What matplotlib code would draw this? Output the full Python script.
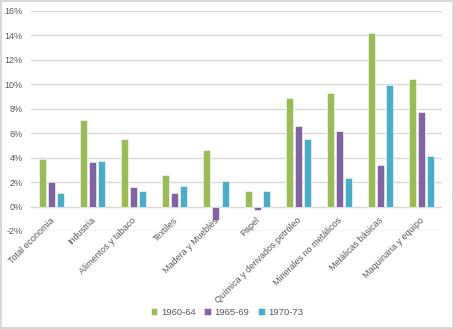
import matplotlib.pyplot as plt
import numpy as np
from matplotlib.ticker import FuncFormatter

plt.rcParams["font.family"] = ["Liberation Sans", "DejaVu Sans"]

categories = [
    "Total economia", "Industria", "Alimentos y tabaco", "Textiles",
    "Madera y Muebles", "Papel", "Química y derivados petróleo",
    "Minerales no metálicos", "Metálicas básicas", "Maquinaria y equipo",
]
series_names = ["1960-64", "1965-69", "1970-73"]
v1960 = [3.9, 7.1, 5.5, 2.6, 4.6, 1.3, 8.9, 9.3, 14.2, 10.4]
v1965 = [2.0, 3.6, 1.6, 1.1, -1.1, -0.3, 6.6, 6.2, 3.4, 7.7]
v1970 = [1.1, 3.7, 1.3, 1.7, 2.1, 1.3, 5.5, 2.3, 9.9, 4.1]
colors = ["#9BBB59", "#8064A2", "#4BACC6"]

fig = plt.figure(figsize=(4.54, 3.29), dpi=100)
fig.patch.set_edgecolor("#D9D9D9")
fig.patch.set_linewidth(1.5)
ax = fig.add_axes([0.068, 0.298, 0.906, 0.669])

x = np.arange(len(categories))
w = 0.17
off = 0.22
for i, (vals, name) in enumerate(zip([v1960, v1965, v1970], series_names)):
    ax.bar(x + (i - 1) * off, vals, w, color=colors[i], label=name,
           edgecolor="white", linewidth=0.4, zorder=3)

ax.set_xlim(-0.5, len(categories) - 0.5)
ax.set_ylim(-2, 16)
ax.set_yticks(np.arange(-2, 17, 2))
ax.yaxis.set_major_formatter(FuncFormatter(lambda v, p: f"{v:.0f}%"))
ax.grid(axis="y", color="#D9D9D9", linewidth=1.0, zorder=0)
for s in ax.spines.values():
    s.set_visible(False)
ax.tick_params(axis="y", length=0, labelsize=6.5, colors="#595959", pad=6)
ax.set_xticks([])

# category labels hang just below the zero line, like Excel does
for xi, lab in zip(x, categories):
    ax.annotate(lab, xy=(xi, 0), xycoords="data", xytext=(1, -9),
                textcoords="offset points", rotation=45, ha="right",
                va="center", rotation_mode="anchor", fontsize=6.5,
                color="#595959", zorder=4)

fig.legend(loc="lower center", ncol=3, frameon=False, fontsize=6.8,
           bbox_to_anchor=(0.5, 0.012), handlelength=0.7, handleheight=0.7,
           columnspacing=0.9, handletextpad=0.4, labelcolor="#595959")

fig.savefig("out.png", dpi=100)
